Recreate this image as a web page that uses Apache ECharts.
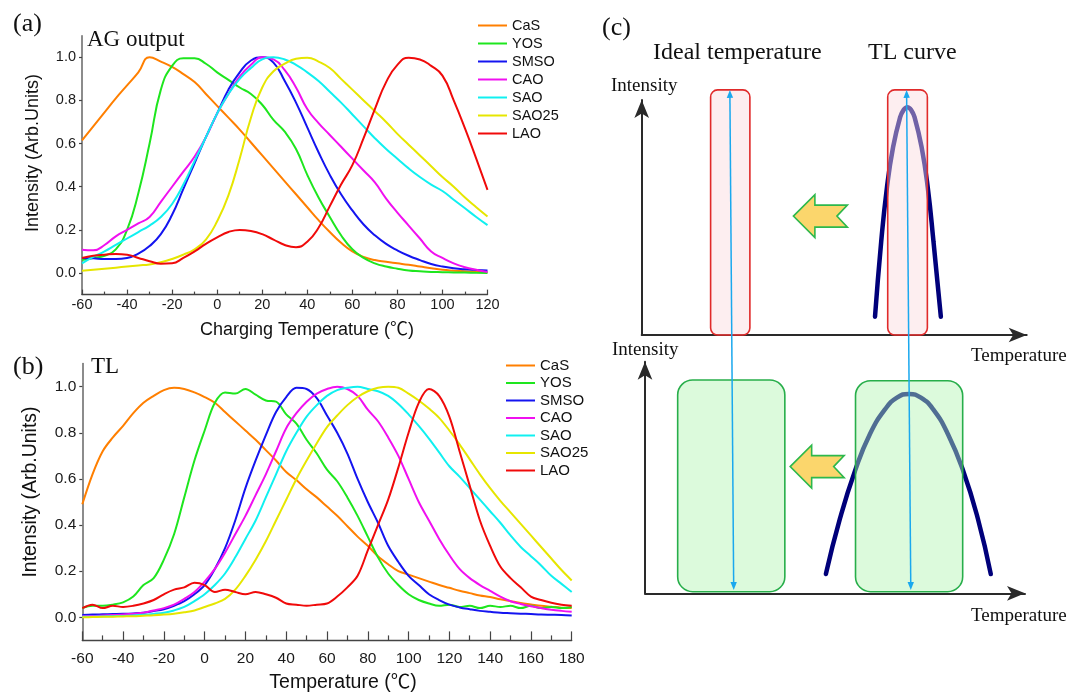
<!DOCTYPE html>
<html>
<head>
<meta charset="utf-8">
<script src="https://cdn.jsdelivr.net/npm/echarts@6/dist/echarts.min.js"></script>
<style>html,body{margin:0;padding:0;background:#fff}#c{width:1069px;height:695px}</style>
</head>
<body>
<div id="c"></div>
<script>
// ---------- Panel (a): AG output vs charging temperature ----------
const Ta = [-60,-55,-50,-45,-40,-35,-30,-25,-20,-15,-10,-5,0,5,10,15,20,25,30,35,40,45,50,55,60,65,70,75,80,85,90,95,100,105,110,115,120];
const CaS_a  = [0.615,0.68,0.745,0.81,0.87,0.93,1.0,0.98,0.955,0.922,0.885,0.83,0.775,0.72,0.665,0.605,0.545,0.485,0.425,0.365,0.305,0.245,0.19,0.14,0.10,0.075,0.06,0.052,0.045,0.038,0.03,0.022,0.015,0.011,0.008,0.006,0.004];
const YOS_a  = [0.06,0.07,0.08,0.11,0.2,0.37,0.6,0.85,0.96,0.995,0.995,0.97,0.93,0.895,0.86,0.83,0.78,0.71,0.655,0.575,0.455,0.35,0.26,0.175,0.11,0.07,0.045,0.03,0.02,0.012,0.008,0.005,0.004,0.003,0.002,0.001,0.0];
const SMSO_a = [0.07,0.068,0.065,0.065,0.07,0.09,0.125,0.18,0.27,0.39,0.51,0.63,0.74,0.85,0.93,0.985,1.0,0.975,0.89,0.79,0.675,0.56,0.455,0.365,0.29,0.225,0.175,0.135,0.105,0.08,0.06,0.042,0.03,0.022,0.017,0.014,0.012];
const CAO_a  = [0.108,0.105,0.13,0.17,0.2,0.23,0.26,0.33,0.4,0.47,0.54,0.63,0.74,0.83,0.91,0.965,1.0,0.99,0.94,0.86,0.76,0.695,0.64,0.585,0.53,0.475,0.42,0.345,0.28,0.22,0.16,0.1,0.07,0.045,0.027,0.015,0.005];
const SAO_a  = [0.045,0.075,0.1,0.13,0.16,0.19,0.22,0.26,0.32,0.41,0.52,0.63,0.74,0.83,0.9,0.95,0.99,1.0,0.99,0.965,0.93,0.89,0.84,0.79,0.735,0.68,0.625,0.575,0.53,0.485,0.445,0.41,0.38,0.34,0.3,0.26,0.222];
const SAO25_a= [0.01,0.015,0.02,0.025,0.03,0.035,0.04,0.05,0.065,0.085,0.11,0.155,0.24,0.36,0.53,0.72,0.86,0.935,0.97,0.993,0.998,0.98,0.95,0.9,0.85,0.8,0.75,0.7,0.645,0.595,0.545,0.495,0.445,0.4,0.35,0.305,0.262];
const LAO_a  = [0.07,0.08,0.085,0.088,0.085,0.07,0.055,0.043,0.045,0.07,0.1,0.135,0.165,0.19,0.2,0.195,0.18,0.155,0.13,0.12,0.145,0.21,0.31,0.41,0.5,0.625,0.76,0.885,0.965,0.998,0.99,0.96,0.915,0.8,0.67,0.53,0.385];

// ---------- Panel (b): TL curves ----------
const Tb = [-60,-55,-50,-45,-40,-35,-30,-25,-20,-15,-10,-5,0,5,10,15,20,25,30,35,40,45,50,55,60,65,70,75,80,85,90,95,100,105,110,115,120,125,130,135,140,145,150,155,160,165,170,175,180];
const CaS_b  = [0.49,0.62,0.72,0.78,0.83,0.885,0.93,0.96,0.985,0.995,0.99,0.975,0.955,0.93,0.89,0.85,0.81,0.77,0.725,0.68,0.63,0.595,0.555,0.52,0.48,0.44,0.395,0.35,0.31,0.265,0.23,0.2,0.185,0.17,0.155,0.14,0.128,0.115,0.105,0.095,0.088,0.078,0.07,0.062,0.056,0.05,0.046,0.042,0.04];
const YOS_b  = [0.04,0.05,0.05,0.055,0.065,0.09,0.14,0.17,0.25,0.36,0.52,0.68,0.81,0.93,0.975,0.97,0.99,0.965,0.94,0.935,0.88,0.84,0.77,0.71,0.64,0.59,0.52,0.44,0.35,0.26,0.19,0.14,0.1,0.075,0.06,0.05,0.055,0.045,0.05,0.04,0.05,0.045,0.05,0.04,0.05,0.04,0.045,0.04,0.045];
const SMSO_b = [0.01,0.012,0.013,0.014,0.015,0.017,0.02,0.027,0.035,0.05,0.07,0.1,0.14,0.21,0.3,0.42,0.56,0.68,0.79,0.89,0.955,0.995,0.99,0.95,0.875,0.8,0.71,0.6,0.5,0.41,0.31,0.24,0.18,0.14,0.1,0.075,0.055,0.043,0.035,0.028,0.024,0.02,0.018,0.016,0.014,0.012,0.011,0.01,0.008];
const CAO_b  = [0.005,0.006,0.008,0.01,0.012,0.016,0.02,0.03,0.04,0.055,0.08,0.11,0.155,0.21,0.28,0.36,0.44,0.53,0.62,0.72,0.82,0.885,0.935,0.97,0.99,1.0,0.99,0.96,0.9,0.85,0.78,0.7,0.6,0.5,0.42,0.34,0.27,0.21,0.17,0.14,0.115,0.09,0.07,0.058,0.048,0.04,0.033,0.028,0.024];
const SAO_b  = [0.002,0.003,0.004,0.005,0.006,0.008,0.011,0.015,0.02,0.03,0.045,0.07,0.1,0.14,0.19,0.26,0.34,0.42,0.52,0.62,0.72,0.8,0.87,0.92,0.96,0.985,0.995,1.0,0.99,0.98,0.96,0.925,0.88,0.83,0.775,0.715,0.655,0.61,0.56,0.51,0.46,0.41,0.355,0.305,0.265,0.225,0.18,0.145,0.11];
const SAO25_b= [0.0,0.001,0.002,0.003,0.004,0.005,0.007,0.009,0.012,0.016,0.022,0.03,0.045,0.06,0.08,0.12,0.18,0.25,0.33,0.42,0.51,0.6,0.68,0.755,0.825,0.875,0.92,0.955,0.98,0.995,1.0,0.995,0.97,0.94,0.905,0.865,0.81,0.75,0.685,0.62,0.56,0.505,0.455,0.405,0.355,0.305,0.255,0.205,0.16];
const LAO_b  = [0.04,0.055,0.04,0.05,0.045,0.05,0.06,0.075,0.1,0.12,0.13,0.15,0.14,0.11,0.12,0.11,0.1,0.11,0.1,0.085,0.06,0.055,0.05,0.055,0.06,0.09,0.13,0.18,0.29,0.4,0.51,0.65,0.8,0.93,0.99,0.96,0.87,0.72,0.57,0.42,0.31,0.22,0.17,0.13,0.09,0.075,0.063,0.055,0.05];

const names  = ['CaS','YOS','SMSO','CAO','SAO','SAO25','LAO'];
const colors = ['#ff7f00','#1ee61e','#1414f0','#f010f0','#10f0f0','#e6e600','#f00a0a'];
const yTicks = [0, 0.2, 0.4, 0.6, 0.8, 1.0];

// ---------- Panel (c): schematic (axis units 0-100) ----------
const boxesTop    = [[17.9, 28.1, 0, 104.3], [63.9, 74.2, 0, 104.3]];
const boxesBottom = [[8.6, 36.8, 0.7, 92.1], [55.4, 83.6, 0.7, 91.8]];
const narrowX = [60.6,62.2,63.7,65.3,67.1,68.0,69.0,70.0,70.9,72.7,74.3,75.8,77.7];
const narrowY = [7.8,39.6,62.8,80.0,92.5,95.7,96.9,95.7,92.5,80.0,62.8,39.6,7.8];
const wideX = [47.6,51.3,55.3,59.2,63.2,66.3,69.5,72.6,75.8,79.7,83.7,87.6,91.0];
const wideY = [8.3,32.2,53.0,68.8,79.5,84.5,86.1,84.5,79.5,68.8,53.0,32.2,8.3];
const cyanArrows = [[22.9,104.3,23.9,-108.5],[68.8,104.3,69.9,-108.5]];
const yellowTop = [[39.4, 50.6]];
const yellowBottom = [[38.2, 54.7]];

const SANS = '"Liberation Sans", Arial, sans-serif';
const SANS_C = '"Liberation Sans", "Noto Sans CJK SC", sans-serif';
const SERIF = '"Liberation Serif", "Times New Roman", serif';
const AX = '#444';

const chart = echarts.init(document.getElementById('c'), null, {renderer: 'canvas'});

function xAxisDef(grid, min, max, majorLen, minorLen, margin, fs) {
  return {
    type: 'value', gridIndex: grid, min: min, max: max, interval: 20,
    axisLine: {onZero: false, lineStyle: {color: AX, width: 1.3}},
    axisTick: {inside: true, length: majorLen, lineStyle: {color: AX, width: 1.2}},
    minorTick: {show: true, splitNumber: 2, length: minorLen, lineStyle: {color: AX, width: 1.2}},
    axisLabel: {margin: margin, fontSize: fs, color: '#1a1a1a', fontFamily: SANS},
    splitLine: {show: false}, minorSplitLine: {show: false}
  };
}
function yAxisDef(grid, fs) {
  return {
    type: 'value', gridIndex: grid, min: -0.1, max: 1.1,
    axisLine: {show: true, onZero: false, lineStyle: {color: '#666', width: 1.5}},
    axisTick: {show: true, inside: false, length: 3, customValues: yTicks, lineStyle: {color: AX, width: 1.2}},
    axisLabel: {margin: 6, fontSize: fs, color: '#1a1a1a', fontFamily: SANS, customValues: yTicks,
                formatter: v => Number(v).toFixed(1)},
    splitLine: {show: false}
  };
}
function schemAxis(grid, symSize) {
  return {
    type: 'value', gridIndex: grid, min: 0, max: 100,
    axisLine: {show: true, onZero: false, symbol: ['none', 'arrow'], symbolSize: symSize,
               lineStyle: {color: '#2a2a2a', width: 2}},
    axisTick: {show: false}, axisLabel: {show: false}, splitLine: {show: false}
  };
}

const series = [];
const setA = [CaS_a, YOS_a, SMSO_a, CAO_a, SAO_a, SAO25_a, LAO_a];
const setB = [CaS_b, YOS_b, SMSO_b, CAO_b, SAO_b, SAO25_b, LAO_b];
names.forEach((n, i) => {
  series.push({
    name: n, type: 'line', xAxisIndex: 0, yAxisIndex: 0, smooth: true, symbol: 'none',
    data: Ta.map((t, k) => [t, setA[i][k]]),
    lineStyle: {color: colors[i], width: 2}, itemStyle: {color: colors[i]}, z: 2 + i * 0.01
  });
});
names.forEach((n, i) => {
  series.push({
    name: n, type: 'line', xAxisIndex: 1, yAxisIndex: 1, smooth: 0.35, symbol: 'none',
    data: Tb.map((t, k) => [t, setB[i][k]]),
    lineStyle: {color: colors[i], width: 2}, itemStyle: {color: colors[i]}, z: 2 + i * 0.01
  });
});

// schematic curves
series.push({
  name: 'narrow', type: 'line', xAxisIndex: 2, yAxisIndex: 2, smooth: true, symbol: 'none', clip: false,
  data: narrowX.map((x, k) => [x, narrowY[k]]),
  lineStyle: {color: '#00007a', width: 4.5, cap: 'round'}, z: 2
});
series.push({
  name: 'wide', type: 'line', xAxisIndex: 3, yAxisIndex: 3, smooth: true, symbol: 'none', clip: false,
  data: wideX.map((x, k) => [x, wideY[k]]),
  lineStyle: {color: '#00007a', width: 4.5, cap: 'round'}, z: 2
});

function boxSeries(name, xi, yi, data, fill, stroke, r) {
  return {
    name: name, type: 'custom', xAxisIndex: xi, yAxisIndex: yi, clip: false, z: 3,
    encode: {x: [0, 1], y: [2, 3]}, data: data,
    renderItem: function (params, api) {
      const p0 = api.coord([api.value(0), api.value(3)]);
      const p1 = api.coord([api.value(1), api.value(2)]);
      return {type: 'rect', shape: {x: p0[0], y: p0[1], width: p1[0] - p0[0], height: p1[1] - p0[1], r: r},
              style: {fill: fill, stroke: stroke, lineWidth: 1.6}};
    }
  };
}
series.push(boxSeries('redBoxes', 2, 2, boxesTop, 'rgba(250,217,222,0.45)', '#e02a2a', 7));
series.push(boxSeries('greenBoxes', 3, 3, boxesBottom, 'rgba(177,244,177,0.45)', '#27ae4a', 15));

series.push({
  name: 'cyan', type: 'custom', xAxisIndex: 2, yAxisIndex: 2, clip: false, z: 6,
  encode: {x: [0, 2], y: [1, 3]}, data: cyanArrows,
  renderItem: function (params, api) {
    const a = api.coord([api.value(0), api.value(1)]);
    const b = api.coord([api.value(2), api.value(3)]);
    const dx = b[0] - a[0], dy = b[1] - a[1];
    const L = Math.sqrt(dx * dx + dy * dy), ux = dx / L, uy = dy / L;
    const px = -uy, py = ux, hl = 8, hw = 3.2;
    const head = (t, s) => [[t[0], t[1]],
      [t[0] + s * ux * hl + px * hw, t[1] + s * uy * hl + py * hw],
      [t[0] + s * ux * hl - px * hw, t[1] + s * uy * hl - py * hw]];
    const col = '#1aa8ee';
    return {type: 'group', children: [
      {type: 'line', shape: {x1: a[0] + ux * 4, y1: a[1] + uy * 4, x2: b[0] - ux * 4, y2: b[1] - uy * 4},
       style: {stroke: col, lineWidth: 1.5}},
      {type: 'polygon', shape: {points: head(a, 1)}, style: {fill: col}},
      {type: 'polygon', shape: {points: head(b, -1)}, style: {fill: col}}
    ]};
  }
});

function yellowArrow(name, xi, yi, data) {
  return {
    name: name, type: 'custom', xAxisIndex: xi, yAxisIndex: yi, clip: false, z: 4,
    encode: {x: 0, y: 1}, data: data,
    renderItem: function (params, api) {
      const t = api.coord([api.value(0), api.value(1)]);
      const shape = [[0,0],[21.5,-21.5],[21.5,-11],[54,-11],[43.5,0],[54,11],[21.5,11],[21.5,21.5]];
      return {type: 'polygon', shape: {points: shape.map(p => [t[0] + p[0], t[1] + p[1]])},
              style: {fill: '#fbd66c', stroke: '#2db84c', lineWidth: 1.6, lineJoin: 'miter'}};
    }
  };
}
series.push(yellowArrow('yArrowTop', 2, 2, yellowTop));
series.push(yellowArrow('yArrowBottom', 3, 3, yellowBottom));

function txt(s, x, y, size, family, opts) {
  return Object.assign({type: 'text', x: x, y: y, z: 10, silent: true,
    style: Object.assign({text: s, fontSize: size, fontFamily: family, fill: '#111',
                          align: 'left', verticalAlign: 'middle'}, (opts && opts.style) || {})},
    (opts && opts.el) || {});
}

const option = {
  animation: false,
  backgroundColor: '#fff',
  grid: [
    {left: 82, top: 35.7, width: 405.5, height: 258.9},
    {left: 82.3, top: 363.6, width: 489.4, height: 276.8},
    {left: 641.7, top: 100, width: 385, height: 235},
    {left: 645, top: 361.7, width: 380, height: 231.6}
  ],
  xAxis: [
    xAxisDef(0, -60, 120, 5, 3, 3, 14.5),
    xAxisDef(1, -60, 180, 9, 5, 10, 15.5),
    schemAxis(2, [11, 18]),
    schemAxis(3, [11, 18])
  ],
  yAxis: [
    yAxisDef(0, 14.5),
    yAxisDef(1, 15.5),
    schemAxis(2, [11, 18]),
    schemAxis(3, [11, 18])
  ],
  legend: [
    {data: names, orient: 'vertical', left: 477, top: 18, padding: 0, itemWidth: 29, itemHeight: 14, itemGap: 3,
     selectedMode: false, itemStyle: {opacity: 0},
     textStyle: {fontSize: 14.5, fontFamily: SANS, color: '#111'}},
    {data: names, orient: 'vertical', left: 505, top: 358, padding: 0, itemWidth: 29, itemHeight: 14, itemGap: 2.5,
     selectedMode: false, itemStyle: {opacity: 0},
     textStyle: {fontSize: 15, fontFamily: SANS, color: '#111'}}
  ],
  graphic: [
    txt('(a)', 13, 24, 26, SERIF),
    txt('AG output', 87, 40, 23, SERIF),
    txt('(b)', 13, 367, 26, SERIF),
    txt('TL', 91, 367, 23, SERIF),
    txt('(c)', 602, 28, 26, SERIF),
    txt('Ideal temperature', 653, 53, 24, SERIF),
    txt('TL curve', 868, 53, 24, SERIF),
    txt('Intensity', 611, 86, 19, SERIF),
    txt('Intensity', 612, 350, 19, SERIF),
    txt('Temperature', 971, 356, 19, SERIF),
    txt('Temperature', 971, 616, 19, SERIF),
    txt('Charging Temperature (\u2103)', 307, 330, 18, SANS_C, {style: {align: 'center'}}),
    txt('Temperature (\u2103)', 343, 683, 19.5, SANS_C, {style: {align: 'center'}}),
    txt('Intensity (Arb.Units)', 33, 153, 18, SANS, {style: {align: 'center'}, el: {rotation: Math.PI / 2}}),
    txt('Intensity (Arb.Units)', 31, 492, 19.5, SANS, {style: {align: 'center'}, el: {rotation: Math.PI / 2}})
  ],
  series: series
};
chart.setOption(option);
</script>
</body>
</html>
